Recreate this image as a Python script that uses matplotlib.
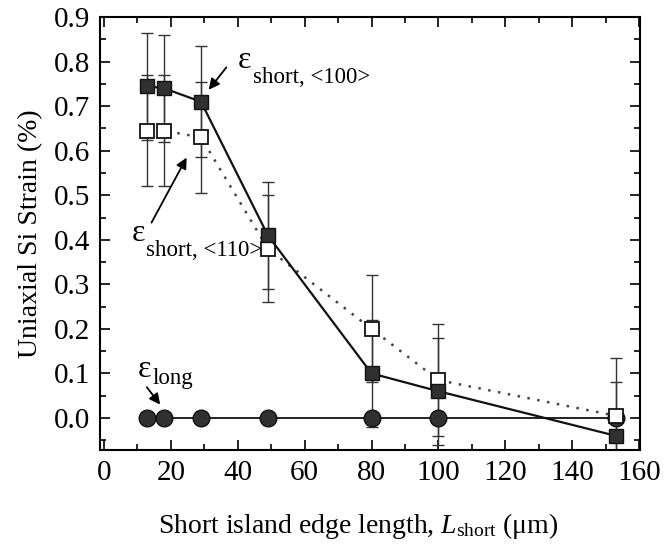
import numpy as np
import matplotlib.pyplot as plt
from matplotlib.ticker import MultipleLocator

plt.rcParams['font.family'] = 'Liberation Serif'
plt.rcParams['mathtext.fontset'] = 'custom'
plt.rcParams['mathtext.rm'] = 'Liberation Serif'
plt.rcParams['mathtext.it'] = 'Liberation Serif:italic'

# island edge lengths (um)
L_short = [13, 18, 29, 49, 80, 100, 153]
# strain values (%)
eps_100 = [0.745, 0.74, 0.71, 0.41, 0.10, 0.06, -0.04]
err_100 = [0.12, 0.12, 0.125, 0.12, 0.12, 0.12, 0.12]
eps_110 = [0.645, 0.645, 0.63, 0.38, 0.20, 0.085, 0.005]
err_110 = [0.125, 0.125, 0.125, 0.12, 0.12, 0.125, 0.13]
L_long = [13, 18, 29, 49, 80, 100, 153]
eps_long = [0.0, 0.0, 0.0, 0.0, 0.0, 0.0, 0.0]
err_long = [0.006, 0.006, 0.006, 0.006, 0.006, 0.006, 0.006]

fig = plt.figure(figsize=(6.65, 5.48), dpi=100)
ax = fig.add_axes([0.1504, 0.1788, 0.812, 0.790])

#error bars first so markers sit on top
ax.errorbar(L_short, eps_110, yerr=err_110, fmt='none', ecolor='#333333',
            elinewidth=1.0, capsize=4.5, capthick=1.0, zorder=2)
ax.errorbar(L_short, eps_100, yerr=err_100, fmt='none', ecolor='#333333',
            elinewidth=1.0, capsize=4.5, capthick=1.0, zorder=2)
ax.errorbar(L_long, eps_long, yerr=err_long, fmt='none', ecolor='#333333',
            elinewidth=1.0, capsize=3, capthick=1.0, zorder=2)

ax.plot(L_long, eps_long, '-', color='#222222', lw=1.4, marker='o', ms=12,
        mfc='#303030', mec='#111111', zorder=3)
ax.plot(L_short, eps_110, linestyle=(0, (1, 3)), color='#444444', lw=1.8, marker='s', ms=10.5,
        mfc='white', mec='#111111', mew=1.3, zorder=4)
ax.plot(L_short, eps_100, '-', color='#111111', lw=1.6, marker='s', ms=10.5,
        mfc='#303030', mec='#111111', zorder=5)

ax.set_xlim(-1.2, 160.3)
ax.set_ylim(-0.072, 0.9)
ax.xaxis.set_major_locator(MultipleLocator(20))
ax.xaxis.set_minor_locator(MultipleLocator(10))
ax.yaxis.set_minor_locator(MultipleLocator(0.05))
ax.set_yticks(np.arange(0, 0.91, 0.1))
ax.set_yticklabels(['%.1f' % v for v in np.arange(0, 0.91, 0.1)])
ax.tick_params(which='both', direction='in', top=True, right=True, labelsize=21, width=1.2)
ax.tick_params(which='major', length=7)
ax.tick_params(which='minor', length=4)
ax.tick_params(axis='x', pad=7)
ax.tick_params(axis='y', pad=7)
for s in ax.spines.values():
    s.set_linewidth(1.5)

ax.set_xlabel(r'Short island edge length, $L_{\rm short}$ ($\rm\mu$m)', fontsize=20)
ax.xaxis.set_label_coords(0.478, -0.14)
ax.set_ylabel('Uniaxial Si Strain (%)', fontsize=20, labelpad=8)

arrow = dict(arrowstyle='-|>', color='black', lw=1.3, mutation_scale=16)
ax.annotate('', xy=(30.8, 0.732), xytext=(37.1, 0.792), arrowprops=arrow)
ax.text(40.1, 0.785, 'ε', fontsize=23, ha='left', va='baseline')
ax.text(44.6, 0.752, 'short, <100>', fontsize=16.5, ha='left', va='baseline')
ax.annotate('', xy=(25.1, 0.59), xytext=(13.8, 0.433), arrowprops=arrow)
ax.text(8.4, 0.397, 'ε', fontsize=23, ha='left', va='baseline')
ax.text(12.6, 0.364, 'short, <110>', fontsize=16.5, ha='left', va='baseline')
ax.annotate('', xy=(17.3, 0.025), xytext=(12.3, 0.074), arrowprops=arrow)
ax.text(10.2, 0.092, 'ε', fontsize=23, ha='left', va='baseline')
ax.text(14.6, 0.076, 'long', fontsize=16.5, ha='left', va='baseline')

fig.savefig('out.png', dpi=100)
